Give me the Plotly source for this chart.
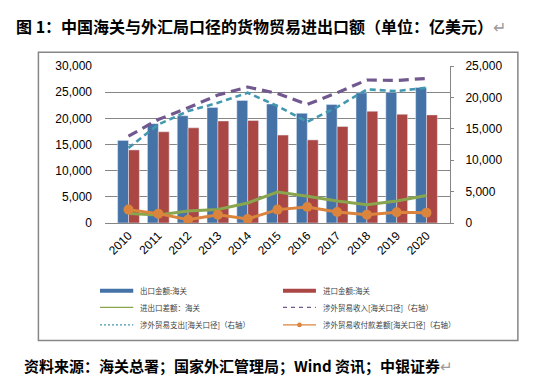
import plotly.graph_objects as go

years = ["2010", "2011", "2012", "2013", "2014", "2015", "2016", "2017", "2018", "2019", "2020"]
exports = [15778, 18984, 20487, 22090, 23423, 22735, 20976, 22633, 24867, 24990, 25900]
imports = [13962, 17435, 18184, 19500, 19592, 16796, 15879, 18438, 21357, 20784, 20660]
balance = [1815, 1549, 2303, 2590, 3825, 5930, 5097, 4196, 3509, 4211, 5240]
fx_receipts = [13830, 16480, 18350, 20370, 21650, 20630, 18880, 20740, 22770, 22700, 23020]
fx_payments = [11960, 15680, 17820, 19140, 20740, 18620, 16110, 18460, 21270, 21010, 21540]
fx_net = [2130, 1490, 530, 1330, 640, 2130, 2550, 1760, 1330, 1700, 1650]

names = ["出口金额:海关", "进口金额:海关", "进出口差额：海关",
         "涉外贸易收入[海关口径]（右轴）", "涉外贸易支出[海关口径]（右轴）",
         "涉外贸易收付款差额[海关口径]（右轴）"]

C_BLUE, C_RED, C_GREEN = "#4572A7", "#AA4643", "#89A54E"
C_PURPLE, C_CYAN, C_ORANGE = "#71588F", "#4198AF", "#DB843D"

W, H = 548, 385
PL, PR, PT, PB = 96.7, 442.3, 58.3, 215.0


def px_x(x):
    return (x - PL) / (PR - PL)


def px_y(y):
    return (PB - y) / (PB - PT)


fig = go.Figure()
fig.add_trace(go.Bar(x=years, y=exports, marker_color=C_BLUE, showlegend=False, name=names[0]))
fig.add_trace(go.Bar(x=years, y=imports, marker_color=C_RED, showlegend=False, name=names[1]))
fig.add_trace(go.Scatter(x=years, y=balance, mode="lines", line=dict(color=C_GREEN, width=3),
                         showlegend=False, name=names[2]))
fig.add_trace(go.Scatter(x=years, y=fx_receipts, yaxis="y2", mode="lines",
                         line=dict(color=C_PURPLE, width=3.2, dash="10px,6px"),
                         showlegend=False, name=names[3]))
fig.add_trace(go.Scatter(x=years, y=fx_payments, yaxis="y2", mode="lines",
                         line=dict(color=C_CYAN, width=2.6, dash="6px,4px"),
                         showlegend=False, name=names[4]))
fig.add_trace(go.Scatter(x=years, y=fx_net, yaxis="y2", mode="lines+markers",
                         line=dict(color=C_ORANGE, width=3),
                         marker=dict(color=C_ORANGE, size=10),
                         showlegend=False, name=names[5]))

tickfont = dict(family="Liberation Sans, Arial, sans-serif", size=12, color="#000000")

fig.update_layout(
    width=W, height=H,
    margin=dict(l=PL, r=W - PR, t=PT, b=H - PB, pad=0),
    paper_bgcolor="white", plot_bgcolor="white",
    barmode="group", bargap=0.27, bargroupgap=0,
    showlegend=False,
    xaxis=dict(type="category", tickangle=-45, tickfont=tickfont, showgrid=False,
               showline=True, linecolor="#868686", linewidth=1, ticks=""),
    yaxis=dict(range=[0, 30000], dtick=5000, tickformat=",", tickfont=tickfont,
               showgrid=True, gridcolor="#868686", gridwidth=1, zeroline=False,
               showline=False, ticks="", ticklabelstandoff=12),
    yaxis2=dict(range=[0, 25000], dtick=5000, tickformat=",", tickfont=tickfont,
                overlaying="y", side="right", showgrid=False, zeroline=False,
                showline=True, linecolor="#868686", linewidth=1,
                ticks="outside", ticklen=3, tickcolor="#868686", ticklabelstandoff=9),
    font=dict(family="Noto Sans CJK SC"),
)

# frame around chart
fig.add_shape(type="rect", xref="paper", yref="paper",
              x0=px_x(30), x1=px_x(510.3), y0=px_y(332.3), y1=px_y(44.7),
              line=dict(color="#868686", width=1.5), fillcolor="rgba(0,0,0,0)", layer="below")

# custom legend (two columns, three rows)
leg_cols = [(91.7, 125.0, 130.0), (275.0, 308.0, 313.0)]
leg_rows = [282.7, 299.3, 316.7]
leg_styles = [
    dict(color=C_BLUE, width=4, dash="solid", marker=False),
    dict(color=C_RED, width=4, dash="solid", marker=False),
    dict(color=C_GREEN, width=1.2, dash="solid", marker=False),
    dict(color=C_PURPLE, width=1.2, dash="4px,4px", marker=False),
    dict(color=C_CYAN, width=1.2, dash="2px,2px", marker=False),
    dict(color=C_ORANGE, width=1.2, dash="solid", marker=True),
]
for i, (nm, st) in enumerate(zip(names, leg_styles)):
    x0, x1, xt = leg_cols[i % 2]
    yy = leg_rows[i // 2]
    fig.add_shape(type="line", xref="paper", yref="paper",
                  x0=px_x(x0), x1=px_x(x1), y0=px_y(yy), y1=px_y(yy),
                  line=dict(color=st["color"], width=st["width"], dash=st["dash"]))
    if st["marker"]:
        xm = (x0 + x1) / 2
        fig.add_shape(type="circle", xref="paper", yref="paper",
                      x0=px_x(xm - 2.3), x1=px_x(xm + 2.3), y0=px_y(yy + 2.3), y1=px_y(yy - 2.3),
                      line=dict(color=st["color"], width=0), fillcolor=st["color"])
    fig.add_annotation(xref="paper", yref="paper", x=px_x(xt), y=px_y(yy),
                       xanchor="left", yanchor="middle", showarrow=False, text=nm, align="left",
                       font=dict(family="Noto Sans CJK SC", size=7.5, color="#404040"))

fig.add_annotation(xref="paper", yref="paper", x=px_x(6), y=px_y(18),
                   xanchor="left", yanchor="middle", showarrow=False, align="left",
                   text="图 1：中国海关与外汇局口径的货物贸易进出口额（单位：亿美元）"
                        "<span style='color:#9a9a9a;font-weight:normal'>↵</span>",
                   font=dict(family="Noto Sans CJK SC", size=16, color="#000000", weight="bold"))

fig.add_annotation(xref="paper", yref="paper", x=px_x(14), y=px_y(357),
                   xanchor="left", yanchor="middle", showarrow=False, align="left",
                   text="资料来源：海关总署；国家外汇管理局；Wind 资讯；中银证券"
                        "<span style='color:#9a9a9a;font-weight:normal'>↵</span>",
                   font=dict(family="Noto Sans CJK SC", size=15, color="#000000", weight="bold"))

fig.write_html("out.html")
